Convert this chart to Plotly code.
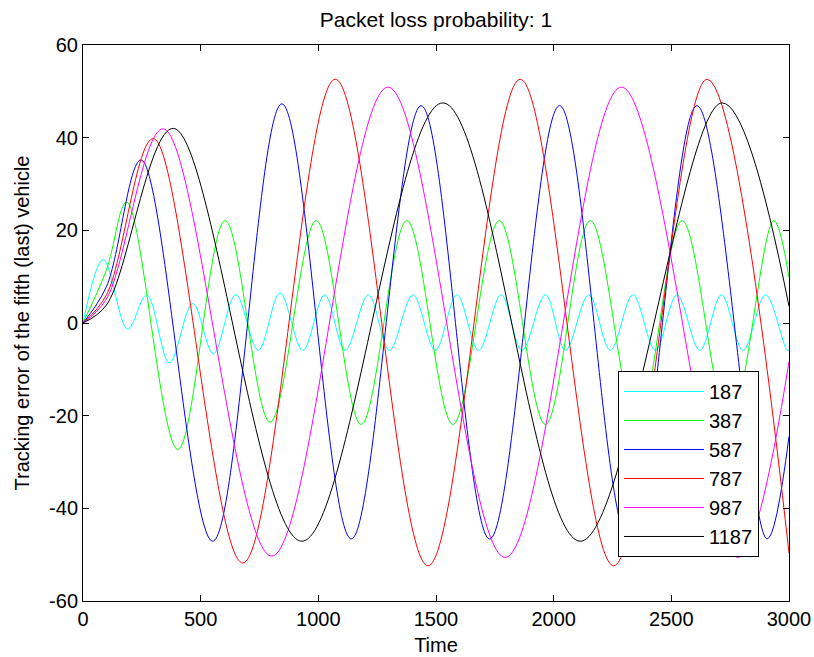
import plotly.graph_objects as go

# Legend labels (period of each reference)
labels = ["187", "387", "587", "787", "987", "1187"]
colors = ["#00FFFF", "#00FF00", "#0000FF", "#FF0000", "#FF00FF", "#000000"]

# Points: start, early rise, then successive peaks / troughs, end
t_187 = [0, 86, 190, 271, 367, 466, 554, 649, 745, 837, 934, 1027, 1114, 1213, 1302,
         1402, 1497, 1589, 1681, 1777, 1865, 1965, 2050, 2149, 2241, 2337, 2432, 2524,
         2621, 2713, 2805, 2900, 2992, 3000]
v_187 = [0, 13.7, -1.3, 6.1, -8.6, 4.2, -6.6, 6.1, -5.9, 6.5, -5.9, 6.1, -5.9, 6.1, -5.9,
         6.1, -5.9, 6.1, -5.9, 6.1, -5.9, 6.1, -5.9, 6.1, -5.9, 6.1, -5.9, 6.1,
         -5.9, 6.1, -5.9, 6.1, -5.9, -5.9]

t_387 = [0, 100, 186, 403, 604, 795, 991, 1182, 1376, 1572, 1769, 1965, 2156, 2355, 2546,
         2745, 2935, 3000]
v_387 = [0, 11.5, 26.1, -27.3, 22.1, -21.4, 22.1, -21.9, 22.1, -21.9, 22.1, -21.9, 22.1,
         -21.9, 22.1, -21.9, 22.1, 9.8]

t_587 = [0, 100, 247, 551, 845, 1140, 1437, 1728, 2025, 2317, 2609, 2907, 3000]
v_587 = [0, 7.9, 35.2, -47.1, 47.3, -46.6, 46.9, -46.6, 46.9, -46.6, 46.9, -46.6, -24.5]

t_787 = [0, 100, 299, 679, 1072, 1466, 1858, 2255, 2652, 3000]
v_787 = [0, 6.1, 39.8, -51.8, 52.6, -52.4, 52.6, -52.4, 52.6, -49.6]

t_987 = [0, 100, 341, 802, 1296, 1794, 2288, 2782, 3000]
v_987 = [0, 5.2, 41.9, -50.3, 50.9, -50.6, 50.9, -50.6, -8.3]

t_1187 = [0, 100, 384, 930, 1529, 2113, 2716, 3000]
v_1187 = [0, 3.9, 42.0, -47.1, 47.5, -47.1, 47.5, 3.6]

series_t = [t_187, t_387, t_587, t_787, t_987, t_1187]
series_v = [v_187, v_387, v_587, v_787, v_987, v_1187]

x_ticks = [0, 500, 1000, 1500, 2000, 2500, 3000]
y_ticks = [-60, -40, -20, 0, 20, 40, 60]

FONT = "Liberation Sans, Arial, sans-serif"

fig = go.Figure()
for name, col, tt, vv in zip(labels, colors, series_t, series_v):
    fig.add_trace(go.Scatter(
        x=tt, y=vv, name=name, mode="lines",
        line=dict(color=col, width=1, shape="spline", smoothing=1),
    ))

axis_common = dict(
    showline=True, linecolor="black", linewidth=1, mirror="ticks",
    ticks="inside", ticklen=6, tickcolor="black", tickwidth=1,
    showgrid=False, zeroline=False, automargin=False,
    tickfont=dict(family=FONT, size=20, color="black"),
)

fig.update_layout(
    width=814, height=657,
    margin=dict(l=83, r=25, t=45, b=56),
    paper_bgcolor="white", plot_bgcolor="white",
    font=dict(family=FONT, size=20, color="black"),
    title=dict(text="Packet loss probability: 1", x=0.5, xref="paper", xanchor="center",
               y=1 - 20 / 657, yref="container", yanchor="middle",
               font=dict(family=FONT, size=21, color="black"), automargin=False),
    xaxis=dict(range=[0, 3000], tickvals=x_ticks, ticktext=[str(v) for v in x_ticks],
               title=dict(text="Time", standoff=8, font=dict(family=FONT, size=20)),
               **axis_common),
    yaxis=dict(range=[-60, 60], tickvals=y_ticks, ticktext=[str(v) for v in y_ticks],
               title=dict(text="Tracking error of the fifth (last) vehicle", standoff=14,
                          font=dict(family=FONT, size=20)),
               **axis_common),
    showlegend=True,
    legend=dict(x=0.9575, y=0.4137, xanchor="right", yanchor="top",
                bgcolor="white", bordercolor="black", borderwidth=1,
                font=dict(family=FONT, size=20, color="black"),
                itemwidth=80, tracegroupgap=0),
)

fig.write_html("out.html",
               config={"displayModeBar": False},
               post_script="document.body.style.margin='0px';document.body.style.overflow='hidden';")
